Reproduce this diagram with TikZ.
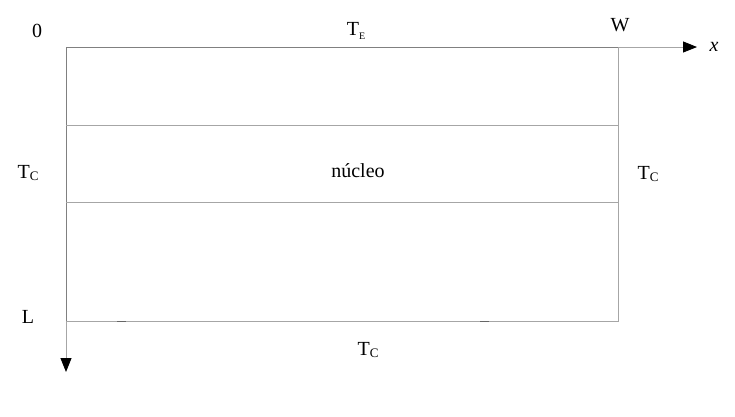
\documentclass[tikz,border=0pt]{standalone}
\usepackage{fontspec}
\setmainfont{Liberation Serif}
\usetikzlibrary{arrows.meta}
\begin{document}
\begin{tikzpicture}[x=1pt,y=-1pt,
  lbl/.style={inner sep=0pt,font=\fontsize{20}{24}\selectfont},
  boxline/.style={draw=black!50,line width=0.9pt},
  axline/.style={draw=black!35,line width=0.9pt},
  axarrow/.style={axline,-{Triangle[length=14pt,width=11pt,color=black]}}]
\useasboundingbox (0,0) rectangle (735,416);
\coordinate (O) at (66,47);
\coordinate (W) at (618,47);
\coordinate (BL) at (66,321);
\coordinate (BR) at (618,321);
\coordinate (XE) at (697,47);
\coordinate (YE) at (66,372);
\coordinate (M1L) at (66,125);
\coordinate (M1R) at (618,125);
\coordinate (M2L) at (66,202);
\coordinate (M2R) at (618,202);
% box
\draw[boxline] (O) -- (W);
\draw[boxline] (O) -- (BL);
\draw[axline] (W) -- (BR) -- (BL);
\draw[axline] (M1L) -- (M1R);
\draw[axline] (M2L) -- (M2R);
% axes
\draw[axarrow] (W) -- (XE);
\draw[axarrow] (BL) -- (YE);
% small marks
\coordinate (d1a) at (117,321); \coordinate (d1b) at (126,321);
\coordinate (d2a) at (480,321); \coordinate (d2b) at (489,321);
\draw[draw=black!60,line width=0.9pt] (d1a) -- (d1b);
\draw[draw=black!60,line width=0.9pt] (d2a) -- (d2b);
% labels
\node[lbl] (zero) at (37,31) {0};
\node[lbl] (te) at (356,31) {T\raisebox{-0.35ex}{\fontsize{10}{11}\selectfont E}};
\node[lbl] (w) at (620,25) {W};
\node[lbl] (x) at (714,47) {\textit{x}};
\node[lbl] (tcl) at (28,173) {T\raisebox{-0.3ex}{\fontsize{13}{13}\selectfont C}};
\node[lbl] (nuc) at (358,171) {núcleo};
\node[lbl] (tcr) at (648,174) {T\raisebox{-0.3ex}{\fontsize{13}{13}\selectfont C}};
\node[lbl] (l) at (28,317) {L};
\node[lbl] (tcb) at (368,350) {T\raisebox{-0.3ex}{\fontsize{13}{13}\selectfont C}};
\end{tikzpicture}
\end{document}
